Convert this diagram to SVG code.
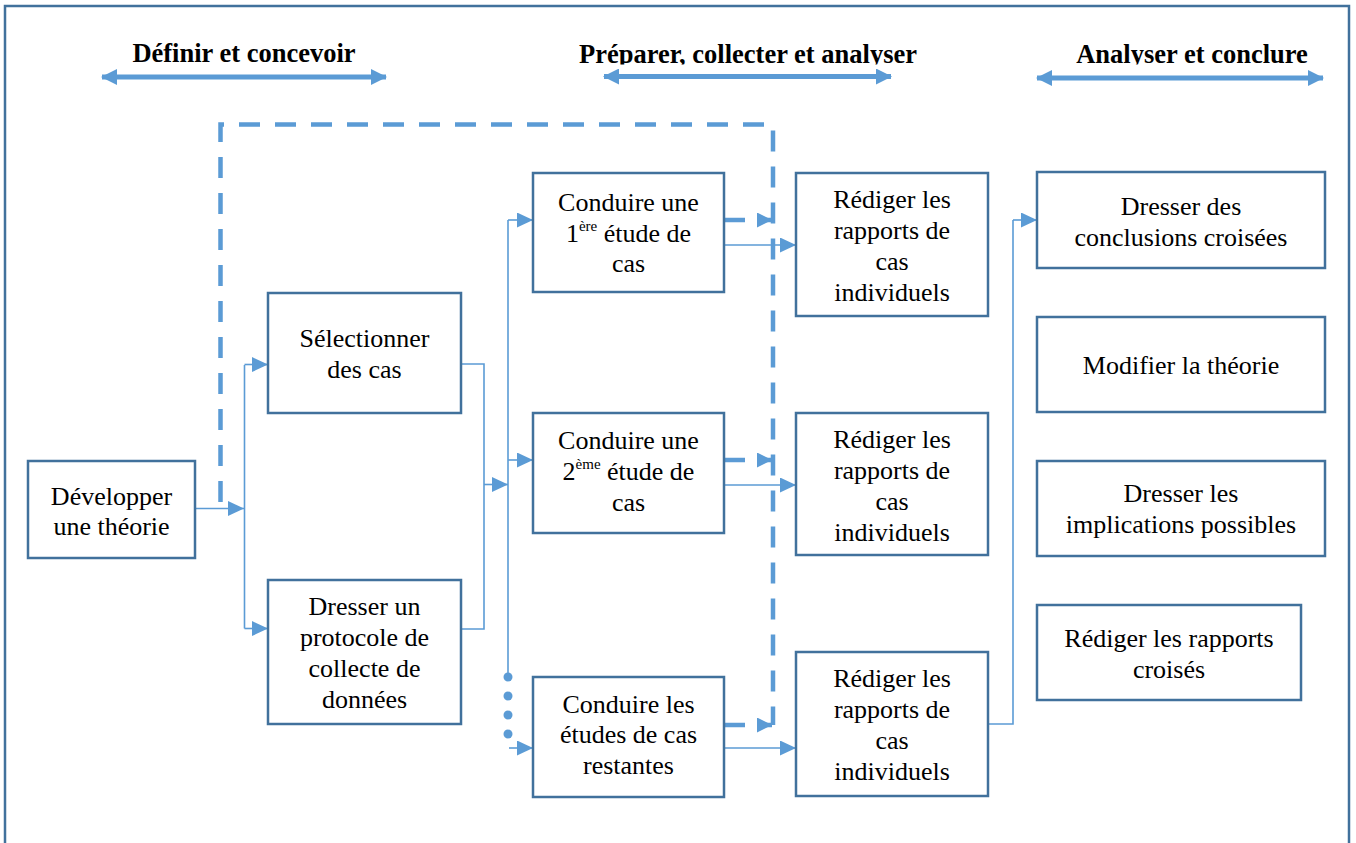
<svg xmlns="http://www.w3.org/2000/svg" width="1356" height="843" viewBox="0 0 1356 843">
<style>
.box{fill:#fff;stroke:#41719c;stroke-width:2.5}
.t{font-family:"Liberation Serif","Times New Roman",serif;font-size:26px;fill:#000;text-anchor:middle}
.h{font-family:"Liberation Serif","Times New Roman",serif;font-size:26.5px;font-weight:bold;fill:#000;text-anchor:middle}
.c{fill:none;stroke:#5b9bd5;stroke-width:1.6}
.ca{fill:none;stroke:#5b9bd5;stroke-width:1.6;marker-end:url(#ah)}
.d{fill:none;stroke:#5b9bd5;stroke-width:4.5;stroke-dasharray:21 15}
.da{fill:none;stroke:#5b9bd5;stroke-width:4.5;stroke-dasharray:21 12;marker-end:url(#ahd)}
.hd{fill:none;stroke:#5b9bd5;stroke-width:5;marker-start:url(#hs);marker-end:url(#he)}
.dot{fill:#5b9bd5}
</style>
<defs>
<marker id="ah" markerUnits="userSpaceOnUse" markerWidth="17" markerHeight="15" refX="16" refY="7.5" orient="auto">
<path d="M0,0 L16,7.5 L0,15 Z" fill="#5b9bd5"/>
</marker>
<marker id="ahd" markerUnits="userSpaceOnUse" markerWidth="16" markerHeight="15" refX="15" refY="7.5" orient="auto">
<path d="M0,0 L15,7.5 L0,15 Z" fill="#5b9bd5"/>
</marker>
<marker id="he" markerUnits="userSpaceOnUse" markerWidth="16" markerHeight="16" refX="15" refY="8" orient="auto">
<path d="M0,0 L16,8 L0,16 Z" fill="#5b9bd5"/>
</marker>
<marker id="hs" markerUnits="userSpaceOnUse" markerWidth="16" markerHeight="16" refX="1" refY="8" orient="auto">
<path d="M16,0 L0,8 L16,16 Z" fill="#5b9bd5"/>
</marker>
<clipPath id="clipH"><rect x="0" y="0" width="1356" height="64.5"/></clipPath>
</defs>
<rect x="0" y="0" width="1356" height="843" fill="#fff"/>
<rect x="5" y="6" width="1344" height="860" fill="none" stroke="#41719c" stroke-width="2.5"/>

<g id="headers">
<text class="h" x="244" y="62">Définir et concevoir</text>
<text class="h" x="748" y="63" clip-path="url(#clipH)">Préparer, collecter et analyser</text>
<text class="h" x="1192" y="63" clip-path="url(#clipH)">Analyser et conclure</text>
<path class="hd" d="M102,77 H386"/>
<path class="hd" d="M604,76.5 H891"/>
<path class="hd" d="M1037,78 H1323"/>
</g>

<g id="connectors">
<path class="d" d="M220.5,502 V124.5 H773 V725"/>
<path class="ca" d="M195,508.5 H244"/>
<path class="c" d="M244.5,365 V628.5"/>
<path class="ca" d="M244.5,364.5 H268"/>
<path class="ca" d="M244.5,628.5 H268"/>
<path class="c" d="M461,364 H484 V629 H461"/>
<path class="ca" d="M484,484.5 H508"/>
<path class="c" d="M508,220 V677"/>
<path class="ca" d="M508,220 H533"/>
<path class="ca" d="M508,460 H533"/>
<circle class="dot" cx="508" cy="677" r="4.5"/>
<circle class="dot" cx="508" cy="696" r="4.5"/>
<circle class="dot" cx="508" cy="715" r="4.5"/>
<circle class="dot" cx="508" cy="734" r="4.5"/>
<path class="ca" d="M509,748 H533"/>
<path class="da" d="M724,220 H772"/>
<path class="da" d="M724,460 H772"/>
<path class="da" d="M724,725 H772"/>
<path class="ca" d="M724,245 H796"/>
<path class="ca" d="M724,485 H796"/>
<path class="ca" d="M724,748 H796"/>
<path class="c" d="M988,724 H1013 V220"/>
<path class="ca" d="M1013,220 H1037"/>
</g>

<g id="n-developper">
<rect class="box" x="28" y="461" width="167" height="97"/>
<text class="t" x="111.5" y="505">Développer</text>
<text class="t" x="111.5" y="535">une théorie</text>
</g>
<g id="n-selectionner">
<rect class="box" x="268" y="293" width="193" height="120"/>
<text class="t" x="364.5" y="347">Sélectionner</text>
<text class="t" x="364.5" y="378">des cas</text>
</g>
<g id="n-protocole">
<rect class="box" x="268" y="580" width="193" height="144"/>
<text class="t" x="364.5" y="615">Dresser un</text>
<text class="t" x="364.5" y="646">protocole de</text>
<text class="t" x="364.5" y="677">collecte de</text>
<text class="t" x="364.5" y="708">données</text>
</g>
<g id="n-etude1">
<rect class="box" x="533" y="173" width="191" height="119"/>
<text class="t" x="628.5" y="211">Conduire une</text>
<text class="t" x="628.5" y="242">1<tspan font-size="15" dy="-11">ère</tspan><tspan dy="11"> étude de</tspan></text>
<text class="t" x="628.5" y="272">cas</text>
</g>
<g id="n-etude2">
<rect class="box" x="533" y="413" width="191" height="120"/>
<text class="t" x="628.5" y="449">Conduire une</text>
<text class="t" x="628.5" y="480">2<tspan font-size="15" dy="-11">ème</tspan><tspan dy="11"> étude de</tspan></text>
<text class="t" x="628.5" y="511">cas</text>
</g>
<g id="n-etudes-restantes">
<rect class="box" x="533" y="677" width="191" height="120"/>
<text class="t" x="628.5" y="713">Conduire les</text>
<text class="t" x="628.5" y="743">études de cas</text>
<text class="t" x="628.5" y="774">restantes</text>
</g>
<g id="n-rapport1">
<rect class="box" x="796" y="173" width="192" height="143"/>
<text class="t" x="892" y="208">Rédiger les</text>
<text class="t" x="892" y="239">rapports de</text>
<text class="t" x="892" y="270">cas</text>
<text class="t" x="892" y="301">individuels</text>
</g>
<g id="n-rapport2">
<rect class="box" x="796" y="413" width="192" height="142"/>
<text class="t" x="892" y="448">Rédiger les</text>
<text class="t" x="892" y="479">rapports de</text>
<text class="t" x="892" y="510">cas</text>
<text class="t" x="892" y="541">individuels</text>
</g>
<g id="n-rapport3">
<rect class="box" x="796" y="652" width="192" height="144"/>
<text class="t" x="892" y="687">Rédiger les</text>
<text class="t" x="892" y="718">rapports de</text>
<text class="t" x="892" y="749">cas</text>
<text class="t" x="892" y="780">individuels</text>
</g>
<g id="n-conclusions">
<rect class="box" x="1037" y="172" width="288" height="96"/>
<text class="t" x="1181" y="215">Dresser des</text>
<text class="t" x="1181" y="246">conclusions croisées</text>
</g>
<g id="n-modifier">
<rect class="box" x="1037" y="317" width="288" height="95"/>
<text class="t" x="1181" y="374">Modifier la théorie</text>
</g>
<g id="n-implications">
<rect class="box" x="1037" y="461" width="288" height="95"/>
<text class="t" x="1181" y="502">Dresser les</text>
<text class="t" x="1181" y="533">implications possibles</text>
</g>
<g id="n-rapports-croises">
<rect class="box" x="1037" y="605" width="264" height="95"/>
<text class="t" x="1169" y="647">Rédiger les rapports</text>
<text class="t" x="1169" y="678">croisés</text>
</g>
</svg>
